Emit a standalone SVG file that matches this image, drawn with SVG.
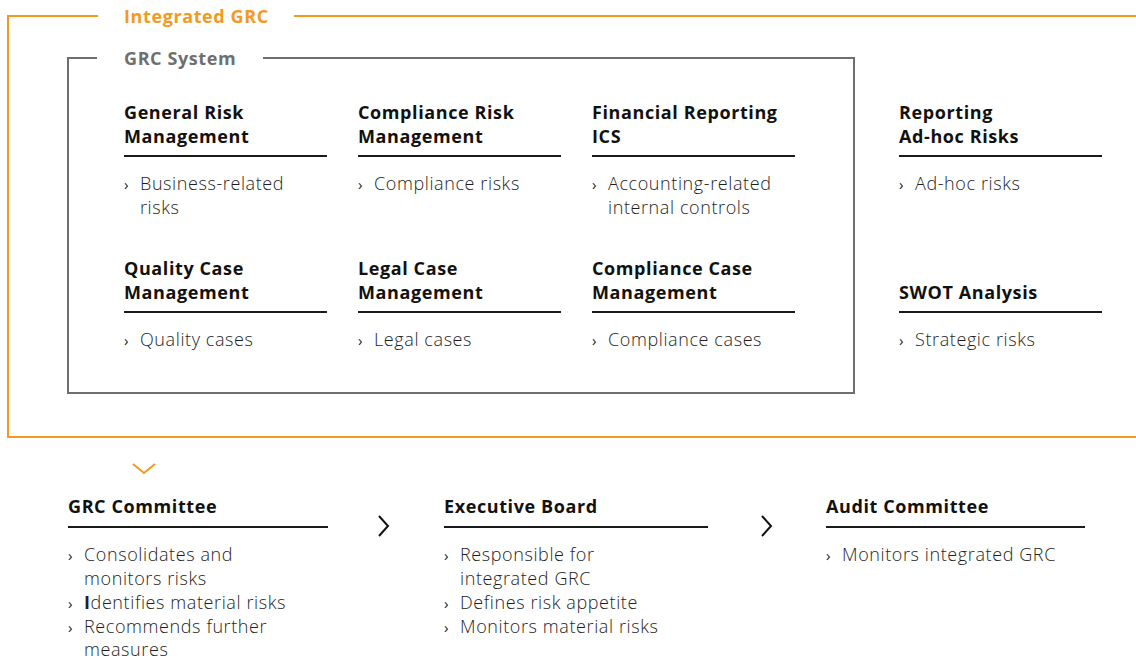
<svg xmlns="http://www.w3.org/2000/svg" width="1136" height="659" viewBox="0 0 1136 659">
  <style>
    .frame-o { fill: none; stroke: #f39a1e; stroke-width: 2; }
    .frame-g { fill: none; stroke: #6f6f6f; stroke-width: 2; }
    .rule { stroke: #1a1a1a; stroke-width: 2; }
    .head { font-family: "Open Sans", "Liberation Sans", sans-serif; font-weight: 700; font-size: 18px; letter-spacing: 0.6px; fill: #111; }
    .body { font-family: "Open Sans", "Liberation Sans", sans-serif; font-weight: 300; font-size: 18px; letter-spacing: 0.6px; fill: #1e1e1e; }
    .bul { font-family: "Open Sans", "Liberation Sans", sans-serif; font-weight: 400; font-size: 15px; fill: #222; }
    .lbl-o { font-family: "Open Sans", "Liberation Sans", sans-serif; font-weight: 700; font-size: 18px; letter-spacing: 0.6px; fill: #f39a1e; }
    .lbl-g { font-family: "Open Sans", "Liberation Sans", sans-serif; font-weight: 700; font-size: 18px; letter-spacing: 0.6px; fill: #6f6f6f; }
    .chev { fill: none; stroke: #111; stroke-width: 2; }
  </style>

  <!-- outer frame: Integrated GRC -->
  <g id="integrated-grc">
    <path class="frame-o" d="M98 16 H8 V437 H1136 M294 16 H1136"/>
    <text class="lbl-o" x="124" y="23">Integrated GRC</text>
  </g>

  <!-- inner frame: GRC System -->
  <g id="grc-system">
    <path class="frame-g" d="M97 58 H68 V393 H854 V58 H263"/>
    <text class="lbl-g" x="124" y="65">GRC System</text>
  </g>

  <g id="general-risk">
    <text class="head" x="124" y="119">General Risk</text>
    <text class="head" x="124" y="143">Management</text>
    <line class="rule" x1="124" y1="156" x2="327" y2="156"/>
    <text class="bul" x="124" y="190">›</text>
    <text class="body" x="140" y="190">Business-related</text>
    <text class="body" x="140" y="214">risks</text>
  </g>

  <g id="compliance-risk">
    <text class="head" x="358" y="119">Compliance Risk</text>
    <text class="head" x="358" y="143">Management</text>
    <line class="rule" x1="358" y1="156" x2="561" y2="156"/>
    <text class="bul" x="358" y="190">›</text>
    <text class="body" x="374" y="190">Compliance risks</text>
  </g>

  <g id="financial-reporting">
    <text class="head" x="592" y="119">Financial Reporting</text>
    <text class="head" x="592" y="143">ICS</text>
    <line class="rule" x1="592" y1="156" x2="795" y2="156"/>
    <text class="bul" x="592" y="190">›</text>
    <text class="body" x="608" y="190">Accounting-related</text>
    <text class="body" x="608" y="214">internal controls</text>
  </g>

  <g id="adhoc-risks">
    <text class="head" x="899" y="119">Reporting</text>
    <text class="head" x="899" y="143">Ad-hoc Risks</text>
    <line class="rule" x1="899" y1="156" x2="1102" y2="156"/>
    <text class="bul" x="899" y="190">›</text>
    <text class="body" x="915" y="190">Ad-hoc risks</text>
  </g>

  <g id="quality-case">
    <text class="head" x="124" y="275">Quality Case</text>
    <text class="head" x="124" y="299">Management</text>
    <line class="rule" x1="124" y1="312" x2="327" y2="312"/>
    <text class="bul" x="124" y="346">›</text>
    <text class="body" x="140" y="346">Quality cases</text>
  </g>

  <g id="legal-case">
    <text class="head" x="358" y="275">Legal Case</text>
    <text class="head" x="358" y="299">Management</text>
    <line class="rule" x1="358" y1="312" x2="561" y2="312"/>
    <text class="bul" x="358" y="346">›</text>
    <text class="body" x="374" y="346">Legal cases</text>
  </g>

  <g id="compliance-case">
    <text class="head" x="592" y="275">Compliance Case</text>
    <text class="head" x="592" y="299">Management</text>
    <line class="rule" x1="592" y1="312" x2="795" y2="312"/>
    <text class="bul" x="592" y="346">›</text>
    <text class="body" x="608" y="346">Compliance cases</text>
  </g>

  <g id="swot">
    <text class="head" x="899" y="299">SWOT Analysis</text>
    <line class="rule" x1="899" y1="312" x2="1102" y2="312"/>
    <text class="bul" x="899" y="346">›</text>
    <text class="body" x="915" y="346">Strategic risks</text>
  </g>

  <g id="grc-committee">
    <text class="head" x="68" y="513">GRC Committee</text>
    <line class="rule" x1="68" y1="527" x2="328" y2="527"/>
    <text class="bul" x="68" y="561">›</text>
    <text class="body" x="84" y="561">Consolidates and</text>
    <text class="body" x="84" y="585">monitors risks</text>
    <text class="bul" x="68" y="609">›</text>
    <text class="body" x="84" y="609"><tspan font-weight="700">I</tspan>dentifies material risks</text>
    <text class="bul" x="68" y="633">›</text>
    <text class="body" x="84" y="633">Recommends further</text>
    <text class="body" x="84" y="656">measures</text>
  </g>

  <g id="executive-board">
    <text class="head" x="444" y="513">Executive Board</text>
    <line class="rule" x1="444" y1="527" x2="708" y2="527"/>
    <text class="bul" x="444" y="561">›</text>
    <text class="body" x="460" y="561">Responsible for</text>
    <text class="body" x="460" y="585">integrated GRC</text>
    <text class="bul" x="444" y="609">›</text>
    <text class="body" x="460" y="609">Defines risk appetite</text>
    <text class="bul" x="444" y="633">›</text>
    <text class="body" x="460" y="633">Monitors material risks</text>
  </g>

  <g id="audit-committee">
    <text class="head" x="826" y="513">Audit Committee</text>
    <line class="rule" x1="826" y1="527" x2="1085" y2="527"/>
    <text class="bul" x="826" y="561">›</text>
    <text class="body" x="842" y="561">Monitors integrated GRC</text>
  </g>

  <!-- flow chevrons -->
  <g id="connectors">
    <path d="M133 464 L144 473 L155 464" fill="none" stroke="#f39a1e" stroke-width="2"/>
    <path class="chev" d="M379 516 L388 526 L379 536"/>
    <path class="chev" d="M762 516 L771 526 L762 536"/>
  </g>
</svg>
